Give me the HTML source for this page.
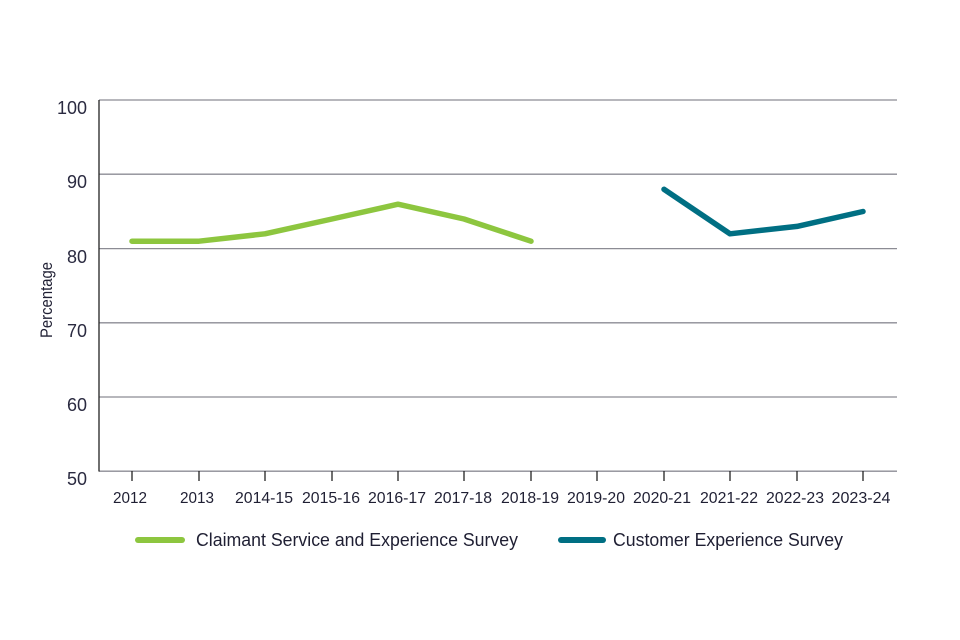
<!DOCTYPE html>
<html><head><meta charset="utf-8"><style>
html,body{margin:0;padding:0;background:#fff;}
svg{display:block;font-family:"Liberation Sans",sans-serif;}
</style></head><body>
<svg width="960" height="640" viewBox="0 0 960 640" xmlns="http://www.w3.org/2000/svg">
<rect width="960" height="640" fill="#fff"/>
<g stroke="#8c8c94" stroke-width="1.3">
<line x1="99" y1="100" x2="897" y2="100"/>
<line x1="99" y1="174.2" x2="897" y2="174.2"/>
<line x1="99" y1="248.6" x2="897" y2="248.6"/>
<line x1="99" y1="322.8" x2="897" y2="322.8"/>
<line x1="99" y1="397" x2="897" y2="397"/>
<line x1="99" y1="471.2" x2="897" y2="471.2"/>
</g>
<line x1="99" y1="100" x2="99" y2="471.5" stroke="#222" stroke-width="1.3"/>
<g stroke="#222" stroke-width="1.3">
<line x1="132" y1="471" x2="132" y2="481"/>
<line x1="199" y1="471" x2="199" y2="481"/>
<line x1="265" y1="471" x2="265" y2="481"/>
<line x1="332" y1="471" x2="332" y2="481"/>
<line x1="398" y1="471" x2="398" y2="481"/>
<line x1="464" y1="471" x2="464" y2="481"/>
<line x1="531" y1="471" x2="531" y2="481"/>
<line x1="597" y1="471" x2="597" y2="481"/>
<line x1="664" y1="471" x2="664" y2="481"/>
<line x1="730" y1="471" x2="730" y2="481"/>
<line x1="797" y1="471" x2="797" y2="481"/>
<line x1="863" y1="471" x2="863" y2="481"/>
</g>
<g fill="#2a2a40" font-size="18" text-anchor="end">
<text x="87" y="114">100</text>
<text x="87" y="188">90</text>
<text x="87" y="263">80</text>
<text x="87" y="337">70</text>
<text x="87" y="411">60</text>
<text x="87" y="485">50</text>
</g>
<g fill="#1f1f33" font-size="15.5" text-anchor="middle">
<text x="130" y="503" textLength="34" lengthAdjust="spacingAndGlyphs">2012</text>
<text x="197" y="503" textLength="34" lengthAdjust="spacingAndGlyphs">2013</text>
<text x="264" y="503" textLength="58" lengthAdjust="spacingAndGlyphs">2014-15</text>
<text x="331" y="503" textLength="58" lengthAdjust="spacingAndGlyphs">2015-16</text>
<text x="397" y="503" textLength="58" lengthAdjust="spacingAndGlyphs">2016-17</text>
<text x="463" y="503" textLength="58" lengthAdjust="spacingAndGlyphs">2017-18</text>
<text x="530" y="503" textLength="58" lengthAdjust="spacingAndGlyphs">2018-19</text>
<text x="596" y="503" textLength="58" lengthAdjust="spacingAndGlyphs">2019-20</text>
<text x="662" y="503" textLength="58" lengthAdjust="spacingAndGlyphs">2020-21</text>
<text x="729" y="503" textLength="58" lengthAdjust="spacingAndGlyphs">2021-22</text>
<text x="795" y="503" textLength="58" lengthAdjust="spacingAndGlyphs">2022-23</text>
<text x="861" y="503" textLength="59" lengthAdjust="spacingAndGlyphs">2023-24</text>
</g>
<text transform="translate(52,300) rotate(-90)" fill="#1f1f33" font-size="17" text-anchor="middle" textLength="76" lengthAdjust="spacingAndGlyphs">Percentage</text>
<polyline fill="none" stroke="#8dc63f" stroke-width="5.5" stroke-linecap="round" stroke-linejoin="round"
 points="132,241.2 199,241.2 265,233.8 332,219 398,204.2 464,219 531,241.2"/>
<polyline fill="none" stroke="#006f83" stroke-width="5.5" stroke-linecap="round" stroke-linejoin="round"
 points="664,189.3 730,233.8 797,226.4 863,211.5"/>
<line x1="138" y1="540" x2="182" y2="540" stroke="#8dc63f" stroke-width="6" stroke-linecap="round"/>
<text x="196" y="546" fill="#1f1f33" font-size="18" textLength="322" lengthAdjust="spacingAndGlyphs">Claimant Service and Experience Survey</text>
<line x1="561" y1="540" x2="603" y2="540" stroke="#006f83" stroke-width="6" stroke-linecap="round"/>
<text x="613" y="546" fill="#1f1f33" font-size="18" textLength="230" lengthAdjust="spacingAndGlyphs">Customer Experience Survey</text>
</svg>
</body></html>
